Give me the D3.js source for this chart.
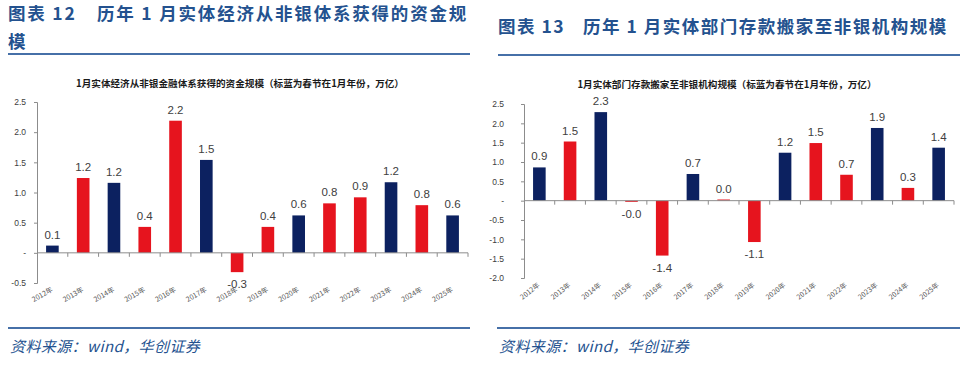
<!DOCTYPE html>
<html><head><meta charset="utf-8">
<script src="https://cdn.jsdelivr.net/npm/d3@7"></script>
<style>
html,body{margin:0;padding:0;background:#fff;}
svg{display:block;}
</style></head>
<body>
<svg id="c" width="960" height="368"></svg>
<script>
// ---- data ----
const years = ["2012年","2013年","2014年","2015年","2016年","2017年","2018年","2019年","2020年","2021年","2022年","2023年","2024年","2025年"];
// true = 春节在1月的年份 (blue bars)
const springInJan = [true,false,true,false,false,true,false,false,true,false,false,true,false,true];
const nonBankFinancing = [0.12,1.24,1.16,0.43,2.19,1.54,-0.32,0.43,0.62,0.82,0.92,1.17,0.79,0.62];
const depositShift = [0.86,1.53,2.29,-0.03,-1.42,0.69,0.03,-1.07,1.24,1.49,0.67,1.88,0.33,1.37];
const leftTicks = [-0.5,0,0.5,1.0,1.5,2.0,2.5];
const rightTicks = [-2.0,-1.5,-1.0,-0.5,0,0.5,1.0,1.5,2.0,2.5];
const leftHeader = ["图表 12", "历年 1 月实体经济从非银体系获得的资金规", "模"];
const rightHeader = ["图表 13", "历年 1 月实体部门存款搬家至非银机构规模"];
const leftTitle = "1月实体经济从非银金融体系获得的资金规模（标蓝为春节在1月年份，万亿）";
const rightTitle = "1月实体部门存款搬家至非银机构规模（标蓝为春节在1月年份，万亿）";
const sourceText = "资料来源：wind，华创证券";

const BLUE = "#0c2160", RED = "#e6141e", HEAD = "#24528f", RULE = "#4670a8";
const CJK = "'Noto Sans CJK SC', sans-serif";
const LAT = "'Liberation Sans', Arial, sans-serif";

const svg = d3.select("#c");

function header(x0, lines, ys, ruleX1, ruleY, gap, ls) {
  const g = svg.append("g").attr("fill", HEAD).attr("font-family", CJK)
    .attr("font-weight", "bold").attr("font-size", 17.5).attr("letter-spacing", ls);
  g.append("text").attr("x", x0).attr("y", ys[0]).text(lines[0]);
  g.append("text").attr("x", x0 + gap).attr("y", ys[0]).text(lines[1]);
  if (lines[2]) g.append("text").attr("x", x0).attr("y", ys[1]).text(lines[2]);
  svg.append("line").attr("x1", x0).attr("x2", ruleX1).attr("y1", ruleY).attr("y2", ruleY)
    .attr("stroke", RULE).attr("stroke-width", 2.2);
}

function footer(x0, x1) {
  svg.append("line").attr("x1", x0).attr("x2", x1).attr("y1", 328).attr("y2", 328)
    .attr("stroke", RULE).attr("stroke-width", 2.2);
  svg.append("text").attr("x", x0 + 2).attr("y", 352).attr("fill", HEAD)
    .attr("font-family", CJK).attr("font-style", "italic").attr("font-size", 15)
    .attr("letter-spacing", 0.4).text(sourceText);
}

function chart(o) {
  const x = d3.scaleBand().domain(years).range([o.x0, o.x1]).paddingInner(0.59).paddingOuter(0.295);
  const y = d3.scaleLinear().domain(o.domain).range([o.yb, o.yt]);
  const g = svg.append("g");
  g.append("text").attr("x", o.tx).attr("y", o.ty).attr("text-anchor", "middle")
    .attr("font-family", CJK).attr("font-weight", "bold").attr("font-size", 9.6)
    .attr("fill", "#1a1a1a").text(o.title);
  // y axis
  const ya = g.append("g").attr("transform", `translate(${o.x0},0)`)
    .call(d3.axisLeft(y).tickValues(o.ticks).tickSize(3).tickPadding(o.tp)
      .tickFormat(d => d === 0 ? "-" : d.toFixed(1)));
  ya.select(".domain").attr("stroke", "#8c8c8c");
  ya.selectAll(".tick line").attr("stroke", "#8c8c8c");
  ya.selectAll("text").attr("font-family", LAT).attr("font-size", 8.5).attr("fill", "#404040");
  // bars
  g.selectAll("rect").data(o.values).join("rect")
    .attr("x", (d, i) => x(years[i]))
    .attr("width", x.bandwidth())
    .attr("y", d => y(Math.max(0, d)))
    .attr("height", d => Math.abs(y(d) - y(0)))
    .attr("fill", (d, i) => springInJan[i] ? BLUE : RED);
  // zero axis with ticks at category boundaries
  const zero = y(0);
  g.append("line").attr("x1", o.x0).attr("x2", o.x1).attr("y1", zero).attr("y2", zero)
    .attr("stroke", "#8c8c8c");
  const step = x.step();
  g.selectAll("line.bt").data(d3.range(1, years.length + 1)).join("line").attr("class", "bt")
    .attr("x1", i => o.x0 + i * step).attr("x2", i => o.x0 + i * step)
    .attr("y1", zero).attr("y2", zero + 4).attr("stroke", "#8c8c8c");
  // value labels
  g.selectAll("text.v").data(o.values).join("text").attr("class", "v")
    .attr("x", (d, i) => x(years[i]) + x.bandwidth() / 2)
    .attr("y", d => d >= 0 ? y(d) - 7 : y(d) + 16)
    .attr("text-anchor", "middle").attr("font-family", LAT).attr("font-size", 11.5)
    .attr("fill", "#404040").text(d => d.toFixed(1));
  // category labels
  g.selectAll("text.c").data(years).join("text").attr("class", "c")
    .attr("transform", d => `translate(${x(d) + x.bandwidth() / 2 + 1},${o.yb + 8}) rotate(${o.rot})`)
    .attr("text-anchor", "end").attr("font-family", CJK).attr("font-size", 7)
    .attr("fill", "#595959").text(d => d);
}

header(8, leftHeader, [20, 48], 470, 54, 89, 1.8);
header(498, rightHeader, [33], 960, 55, 85, 1.5);

chart({x0: 37, x1: 468, yt: 102, yb: 283, domain: [-0.5, 2.5], ticks: leftTicks, tp: 8,
  values: nonBankFinancing, title: leftTitle, tx: 240, ty: 87, rot: -30});
chart({x0: 524, x1: 954, yt: 104, yb: 278, domain: [-2.0, 2.5], ticks: rightTicks, tp: 17,
  values: depositShift, title: rightTitle, tx: 727, ty: 88, rot: -38});

footer(8, 470);
footer(497, 960);
</script>
</body></html>
